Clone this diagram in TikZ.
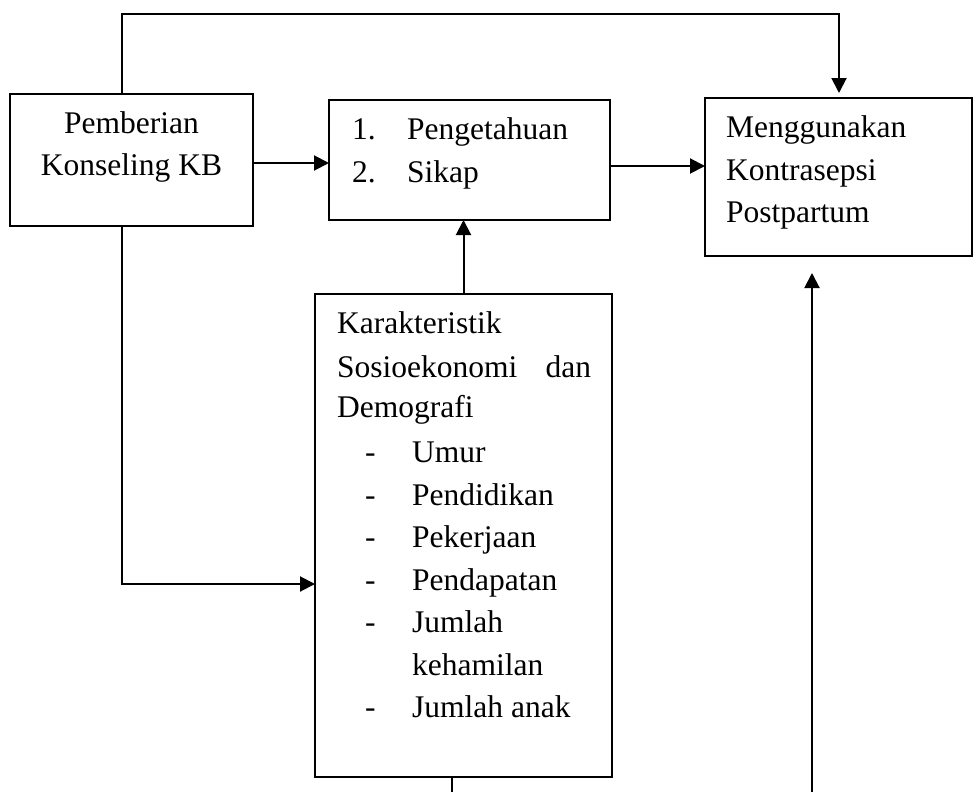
\documentclass[tikz,border=0pt]{standalone}
\usepackage{fontspec}
\setmainfont{Liberation Serif}
\usetikzlibrary{arrows.meta,calc}
\begin{document}
\begin{tikzpicture}[x=1pt,y=-1pt,
  box/.style={draw,line width=2pt,rectangle,inner sep=0pt,outer sep=0pt},
  arr/.style={line width=2pt,-{Triangle[length=15pt,width=15pt]}},
  ln/.style={line width=2pt},
  txt/.style={inner sep=0pt,anchor=base west,font=\fontsize{31.5}{43}\selectfont},
  ctxt/.style={txt,anchor=base}]
\useasboundingbox (0,0) rectangle (974,792);
% boxes
\node[box,minimum width=243pt,minimum height=132pt] (A) at (131.5,160) {};
\node[box,minimum width=281pt,minimum height=120pt] (B) at (469.5,160) {};
\node[box,minimum width=267pt,minimum height=158pt] (C) at (838.5,177) {};
\node[box,minimum width=297pt,minimum height=483pt] (D) at (463.5,535.5) {};
% texts
\node[ctxt] (a1) at (131.5,133) {Pemberian};
\node[ctxt] (a2) at (131.5,175) {Konseling KB};
\node[txt] (b1n) at (352,139) {1.};
\node[txt] (b1t) at (407,139) {Pengetahuan};
\node[txt] (b2n) at (352,182) {2.};
\node[txt] (b2t) at (407,182) {Sikap};
\node[txt] (c1) at (726,137) {Menggunakan};
\node[txt] (c2) at (726,180) {Kontrasepsi};
\node[txt] (c3) at (726,222) {Postpartum};
\node[txt] (d1) at (337,333) {Karakteristik};
\node[txt] (d2) at (337,377) {\makebox[254pt][l]{Sosioekonomi\hfill dan}};
\node[txt] (d3) at (337,417) {Demografi};
\foreach \y [count=\i] in {462,505,547,590,632,717}{
  \node[txt] (dd\i) at (365,\y) {-};
}
\node[txt] (e1) at (412,462) {Umur};
\node[txt] (e2) at (412,505) {Pendidikan};
\node[txt] (e3) at (412,547) {Pekerjaan};
\node[txt] (e4) at (412,590) {Pendapatan};
\node[txt] (e5) at (412,632) {Jumlah};
\node[txt] (e6) at (412,675) {kehamilan};
\node[txt] (e7) at (412,717) {Jumlah anak};
% connectors
\coordinate (t1) at (122,14);
\coordinate (t2) at (839,14);
\draw[arr] (t1 |- A.north) -- (t1) -- (t2) -- ([yshift=5pt]t2 |- C.north);
\draw[arr] ([yshift=-3pt]A.east) -- ([yshift=-3pt]A.east -| B.west);
\draw[arr] ([yshift=-6pt]B.east) -- ([yshift=-6pt]B.east -| C.west);
\draw[arr] (D.north) -- (D.north |- B.south);
\coordinate (k) at (122,584);
\draw[arr] (k |- A.south) -- (k) -- (k -| D.west);
\coordinate (q1) at (452,792);
\draw[ln] (q1 |- D.south) -- (q1);
\coordinate (q2) at (812,792);
\draw[arr] (q2) -- ([yshift=-17pt]q2 |- C.south);
\end{tikzpicture}
\end{document}
